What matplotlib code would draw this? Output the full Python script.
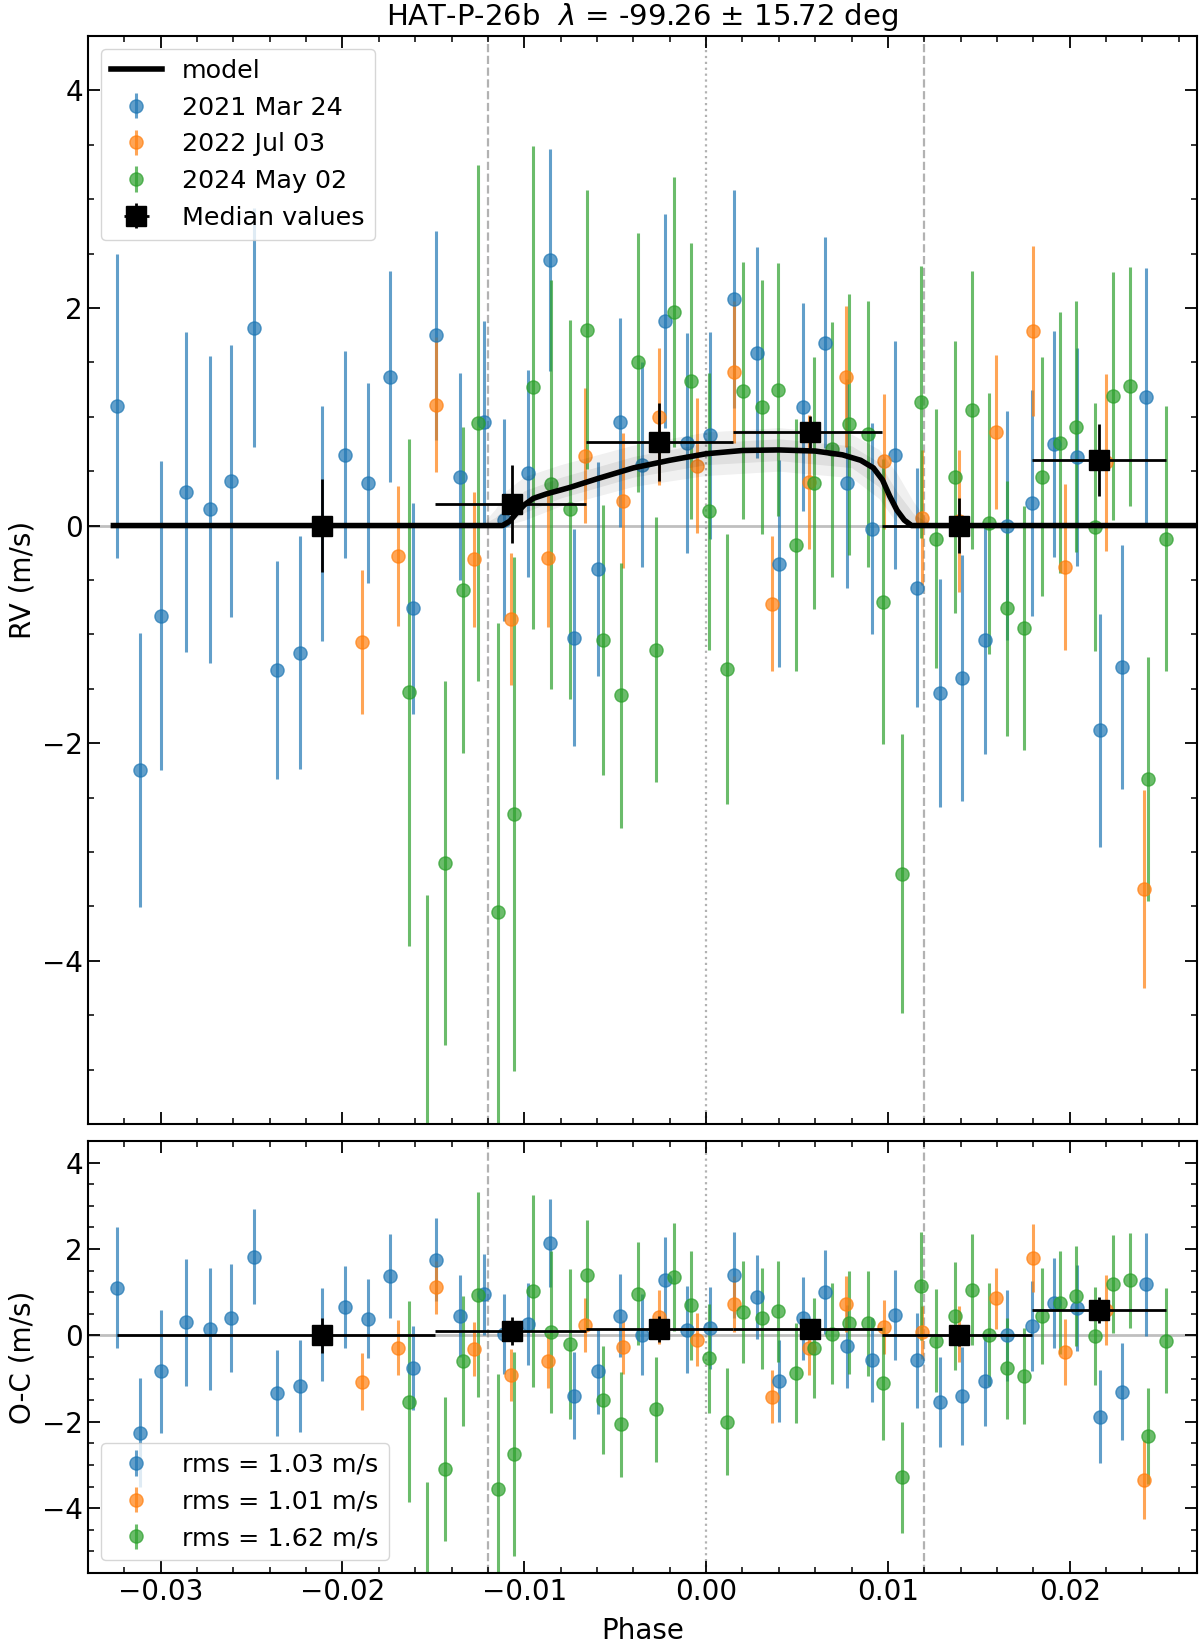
import numpy as np
import matplotlib
matplotlib.use('Agg')
import matplotlib.pyplot as plt
import matplotlib.ticker as mticker

# _____________________________________________________________________________
#                               Dados
# _____________________________________________________________________________
TITLE = r'HAT-P-26b  $\lambda$ = -99.26 ± 15.72 deg'
NIGHTS = ['2021 Mar 24', '2022 Jul 03', '2024 May 02']
RMS_LABELS = ['rms = 1.03 m/s', 'rms = 1.01 m/s', 'rms = 1.62 m/s']
COLORS = ['#1f77b4', '#ff7f0e', '#2ca02c']

# 2021 Mar 24
phase_a = [-0.03238, -0.03114, -0.02996, -0.02863, -0.02729, -0.02615,
           -0.02484, -0.02359, -0.02236, -0.02112, -0.01984, -0.01861,
           -0.01736, -0.01614, -0.01484, -0.01352, -0.01222, -0.01110,
           -0.00982, -0.00857, -0.00725, -0.00597, -0.00473, -0.00350,
           -0.00225, -0.00103, 0.00022, 0.00154, 0.00282, 0.00403,
           0.00531, 0.00654, 0.00777, 0.00910, 0.01038, 0.01161,
           0.01286, 0.01408, 0.01533, 0.01656, 0.01793, 0.01914,
           0.02040, 0.02165, 0.02288, 0.02421]
rv_a = [1.10, -2.25, -0.83, 0.31, 0.15, 0.41,
        1.82, -1.33, -1.17, 0.02, 0.65, 0.39,
        1.37, -0.76, 1.75, 0.45, 0.95, 0.05,
        0.48, 2.44, -1.03, -0.40, 0.95, 0.56,
        1.88, 0.76, 0.83, 2.08, 1.59, -0.35,
        1.09, 1.68, 0.39, -0.03, 0.65, -0.57,
        -1.54, -1.40, -1.05, 0.00, 0.21, 0.75,
        0.63, -1.88, -1.30, 1.18]
err_a = [1.40, 1.26, 1.42, 1.47, 1.41, 1.25,
         1.10, 1.00, 1.07, 1.08, 0.95, 0.92,
         0.97, 0.97, 0.96, 0.95, 0.93, 0.93,
         0.95, 1.02, 1.00, 0.98, 0.96, 0.94,
         0.98, 1.01, 0.95, 1.00, 0.97, 0.95,
         0.96, 0.97, 0.96, 0.97, 1.05, 1.10,
         1.05, 1.13, 1.05, 1.05, 1.04, 1.04,
         1.00, 1.07, 1.12, 1.19]

# 2022 Jul 03
phase_b = [-0.01892, -0.01694, -0.01484, -0.01278, -0.01071, -0.00872,
           -0.00665, -0.00458, -0.00258, -0.00051, 0.00156, 0.00364,
           0.00568, 0.00771, 0.00978, 0.01185, 0.01392, 0.01593,
           0.01799, 0.01973, 0.02201, 0.02410]
rv_b = [-1.07, -0.28, 1.11, -0.31, -0.86, -0.30,
        0.64, 0.23, 1.00, 0.55, 1.41, -0.72,
        0.40, 1.37, 0.59, 0.07, 0.04, 0.86,
        1.79, -0.38, 0.58, -3.34]
err_b = [0.66, 0.64, 0.62, 0.62, 0.61, 0.63,
         0.62, 0.62, 0.63, 0.62, 0.65, 0.62,
         0.62, 0.65, 0.62, 0.62, 0.65, 0.71,
         0.78, 0.76, 0.81, 0.91]

# 2024 May 02
phase_c = [-0.01636, -0.01535, -0.01434, -0.01337, -0.01256, -0.01147,
           -0.01055, -0.00954, -0.00853, -0.00747, -0.00656, -0.00568,
           -0.00467, -0.00375, -0.00275, -0.00174, -0.00084, 0.00018,
           0.00114, 0.00205, 0.00308, 0.00397, 0.00495, 0.00595,
           0.00690, 0.00788, 0.00888, 0.00974, 0.01075, 0.01180,
           0.01267, 0.01368, 0.01460, 0.01557, 0.01657, 0.01749,
           0.01848, 0.01945, 0.02037, 0.02137, 0.02238, 0.02330,
           0.02430, 0.02531]
rv_c = [-1.53, -5.70, -3.10, -0.59, 0.94, -3.55,
        -2.65, 1.27, 0.38, 0.15, 1.80, -1.05,
        -1.56, 1.50, -1.14, 1.96, 1.33, 0.13,
        -1.32, 1.24, 1.09, 1.25, -0.18, 0.39,
        0.70, 0.93, 0.84, -0.70, -3.20, 1.14,
        -0.12, 0.45, 1.06, 0.02, -0.76, -0.94,
        0.45, 0.76, 0.91, -0.01, 1.19, 1.28,
        -2.33, -0.12]
err_c = [2.33, 2.30, 1.67, 1.50, 2.37, 2.65,
         2.36, 2.22, 1.88, 1.74, 1.28, 1.24,
         1.22, 1.19, 1.22, 1.24, 1.27, 1.27,
         1.24, 1.18, 1.17, 1.16, 1.16, 1.16,
         1.17, 1.20, 1.22, 1.31, 1.28, 1.25,
         1.19, 1.25, 1.28, 1.20, 1.17, 1.12,
         1.10, 1.20, 1.15, 1.14, 1.14, 1.10,
         1.12, 1.22]

# Modelo (Rossiter-McLaughlin)
model_phase = [-0.0326, -0.0112, -0.0108, -0.0104, -0.0100, -0.0095,
               -0.0088, -0.0075, -0.0060, -0.0040, -0.0020, 0.0000,
               0.0020, 0.0040, 0.0060, 0.0075, 0.0085, 0.0092,
               0.0097, 0.0101, 0.0105, 0.0109, 0.0113, 0.0280]
model_rv = [0.00, 0.00, 0.04, 0.12, 0.19, 0.25,
            0.29, 0.35, 0.43, 0.53, 0.60, 0.66,
            0.69, 0.695, 0.685, 0.65, 0.60, 0.53,
            0.42, 0.27, 0.14, 0.05, 0.00, 0.00]

# Envelope das amostras do modelo
band_phase = [-0.0124, -0.0116, -0.0110, -0.0100, -0.0080, -0.0040,
              0.0000, 0.0040, 0.0080, 0.0095, 0.0105, 0.0114, 0.0124]
band_hi = [0.00, 0.15, 0.32, 0.45, 0.56, 0.74,
           0.86, 0.90, 0.84, 0.70, 0.48, 0.22, 0.00]
band_lo = [0.00, 0.00, 0.00, 0.05, 0.18, 0.36,
           0.46, 0.50, 0.44, 0.25, 0.02, 0.00, 0.00]

# Valores medianos por intervalo de fase
med_phase = [-0.0211, -0.0107, -0.00257, 0.00571, 0.01392, 0.02161]
med_lo = [-0.0324, -0.0149, -0.0066, 0.0015, 0.0097, 0.0179]
med_hi = [-0.0149, -0.0066, 0.0015, 0.0097, 0.0179, 0.0253]
med_rv = [0.00, 0.20, 0.77, 0.86, 0.00, 0.60]
med_rv_err = [0.43, 0.36, 0.36, 0.15, 0.25, 0.33]
med_oc = [0.00, 0.10, 0.15, 0.16, 0.00, 0.58]
med_oc_err = [0.40, 0.33, 0.30, 0.15, 0.25, 0.30]

T14_HALF = 0.0120

# _____________________________________________________________________________
#                               Figura
# _____________________________________________________________________________
FS = 20
LFS = 18.3
fig = plt.figure(figsize=(12, 16.42), dpi=100)
ax = fig.add_axes([0.0733, 0.3155, 0.9242, 0.6626])
axr = fig.add_axes([0.0733, 0.0420, 0.9242, 0.2631], sharex=ax)

series = [(phase_a, rv_a, err_a), (phase_b, rv_b, err_b),
          (phase_c, rv_c, err_c)]

# Painel superior: RV
ax.axhline(0, color='gray', lw=2, alpha=0.5, zorder=1)
bp = np.array(band_phase)
ax.fill_between(bp, band_lo, band_hi, color='k', alpha=0.06, lw=0, zorder=3)
mid_hi = (np.array(band_hi) + np.interp(bp, model_phase, model_rv)) / 2
mid_lo = (np.array(band_lo) + np.interp(bp, model_phase, model_rv)) / 2
ax.fill_between(bp, mid_lo, mid_hi, color='k', alpha=0.07, lw=0, zorder=3)
ax.plot(model_phase, model_rv, color='k', lw=4, label='model', zorder=4)

for (ph, rv, er), c, lab in zip(series, COLORS, NIGHTS):
    ax.errorbar(ph, rv, yerr=er, fmt='o', color=c, alpha=0.7, ms=9.5,
                elinewidth=2.2, capsize=0, label=lab, zorder=2)

mp = np.array(med_phase)
xerr = [mp - np.array(med_lo), np.array(med_hi) - mp]
ax.errorbar(mp, med_rv, xerr=xerr, yerr=med_rv_err, fmt='s', color='k',
            ms=14, elinewidth=2, capsize=0, label='Median values', zorder=6)

# Painel inferior: O-C
axr.axhline(0, color='gray', lw=2, alpha=0.5, zorder=1)
for (ph, rv, er), c, lab in zip(series, COLORS, RMS_LABELS):
    res = np.array(rv) - np.interp(ph, model_phase, model_rv)
    axr.errorbar(ph, res, yerr=er, fmt='o', color=c, alpha=0.7, ms=9.5,
                 elinewidth=2.2, capsize=0, label=lab, zorder=2)
axr.errorbar(mp, med_oc, xerr=xerr, yerr=med_oc_err, fmt='s', color='k',
             ms=14, elinewidth=2, capsize=0, zorder=6)

for a in (ax, axr):
    a.axvline(-T14_HALF, color='gray', ls='--', lw=1.6, alpha=0.6, zorder=1)
    a.axvline(T14_HALF, color='gray', ls='--', lw=1.6, alpha=0.6, zorder=1)
    a.axvline(0, color='gray', ls=':', lw=1.6, alpha=0.6, zorder=1)
    a.set_ylim(-5.5, 4.5)
    a.xaxis.set_major_locator(mticker.MultipleLocator(0.01))
    a.xaxis.set_minor_locator(mticker.MultipleLocator(0.002))
    a.yaxis.set_major_locator(mticker.MultipleLocator(2))
    a.yaxis.set_minor_locator(mticker.MultipleLocator(0.5))
    a.tick_params(which='both', direction='in', top=True, right=True,
                  labelsize=FS)
    a.tick_params(which='major', length=8.5, width=1.3)
    a.tick_params(which='minor', length=4.5, width=1.1)
    for s in a.spines.values():
        s.set_linewidth(1.5)

ax.set_xlim(-0.0340, 0.0270)
ax.tick_params(labelbottom=False)
ax.set_ylabel('RV (m/s)', fontsize=FS)
ax.set_title(TITLE, fontsize=21, pad=8)
ax.legend(loc='upper left', fontsize=LFS, framealpha=0.8)

axr.set_ylabel('O-C (m/s)', fontsize=FS)
axr.set_xlabel('Phase', fontsize=FS, labelpad=8)
axr.legend(loc='lower left', fontsize=LFS, framealpha=0.8)

fig.savefig('out.png', dpi=100)
